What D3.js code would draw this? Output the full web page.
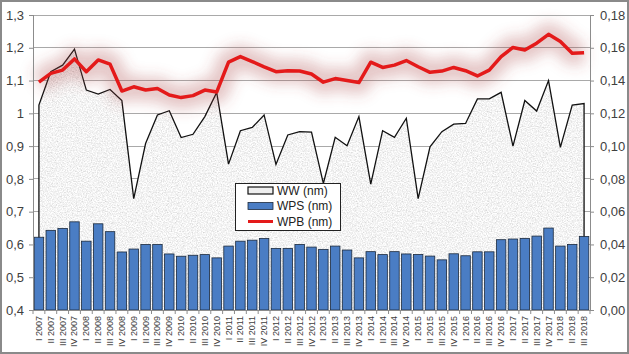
<!DOCTYPE html>
<html><head><meta charset="utf-8">
<script src="https://cdn.jsdelivr.net/npm/d3@7"></script>
<style>
html,body{margin:0;padding:0;background:#fff;}
svg{display:block;font-family:"Liberation Sans",Arial,sans-serif;}
</style></head>
<body>
<svg id="chart" width="629" height="354"></svg>
<script>
const categories = ["I 2007","II 2007","III 2007","IV 2007","I 2008","II 2008","III 2008","IV 2008",
"I 2009","II 2009","III 2009","IV 2009","I 2010","II 2010","III 2010","IV 2010",
"I 2011","II 2011","III 2011","IV 2011","I 2012","II 2012","III 2012","IV 2012",
"I 2013","II 2013","III 2013","IV 2013","I 2014","II 2014","III 2014","IV 2014",
"I 2015","II 2015","III 2015","IV 2015","I 2016","II 2016","III 2016","IV 2016",
"I 2017","II 2017","III 2017","IV 2017","I 2018","II 2018","III 2018"];

// WW (nm) - left axis
const ww = [1.025,1.127,1.147,1.196,1.071,1.059,1.073,1.039,0.740,0.908,0.995,1.008,
0.926,0.936,0.990,1.064,0.845,0.947,0.957,0.995,0.844,0.934,0.944,0.943,
0.786,0.927,0.901,0.990,0.784,0.947,0.927,0.985,0.740,0.898,0.944,0.967,
0.969,1.044,1.044,1.064,0.900,1.039,1.007,1.100,0.896,1.025,1.030];

// WPS (nm) - right axis
const wps = [0.0444,0.0486,0.0498,0.0538,0.0420,0.0526,0.0478,0.0354,0.0372,0.0400,0.0400,0.0342,
0.0328,0.0334,0.0338,0.0318,0.0390,0.0420,0.0426,0.0436,0.0376,0.0376,0.0400,0.0384,
0.0370,0.0390,0.0366,0.0318,0.0356,0.0338,0.0356,0.0342,0.0339,0.0329,0.0306,0.0343,
0.0331,0.0355,0.0355,0.0429,0.0433,0.0437,0.0451,0.0500,0.0390,0.0400,0.0449];

// WPB (nm) - right axis
const wpb = [0.1390,0.1444,0.1464,0.1532,0.1454,0.1526,0.1500,0.1336,0.1362,0.1342,0.1352,0.1312,
0.1296,0.1308,0.1342,0.1330,0.1512,0.1546,0.1516,0.1484,0.1454,0.1460,0.1458,0.1440,
0.1390,0.1412,0.1400,0.1388,0.1512,0.1480,0.1494,0.1522,0.1484,0.1450,0.1458,0.1480,
0.1460,0.1428,0.1464,0.1546,0.1602,0.1586,0.1628,0.1682,0.1638,0.1566,0.1570];

const leftTicks = [0.4,0.5,0.6,0.7,0.8,0.9,1.0,1.1,1.2,1.3];
const leftTickLabels = ["0,4","0,5","0,6","0,7","0,8","0,9","1","1,1","1,2","1,3"];
const rightTicks = [0,0.02,0.04,0.06,0.08,0.10,0.12,0.14,0.16,0.18];
const rightTickLabels = ["0,00","0,02","0,04","0,06","0,08","0,10","0,12","0,14","0,16","0,18"];
const seriesNames = ["WW (nm)","WPS (nm)","WPB (nm)"];

const svg = d3.select("#chart");
const X0 = 33, X1 = 590, YT = 15, YB = 310;

const x = d3.scaleBand().domain(categories).range([X0, X1]).paddingInner(0.2).paddingOuter(0.1);
const cx = c => x(c) + x.bandwidth()/2;
const yL = d3.scaleLinear().domain([0.4, 1.3]).range([YB, YT]);
const yR = d3.scaleLinear().domain([0, 0.18]).range([YB, YT]);

const defs = svg.append("defs");
const tex = defs.append("filter").attr("id","tex").attr("x",0).attr("y",0).attr("width",1).attr("height",1);
tex.append("feTurbulence").attr("type","fractalNoise").attr("baseFrequency",0.8).attr("numOctaves",3).attr("seed",7).attr("result","noise");
tex.append("feColorMatrix").attr("in","noise").attr("type","matrix")
  .attr("values","0.6 0 0 0 0.6  0.6 0 0 0 0.6  0.6 0 0 0 0.6  0 0 0 0 1").attr("result","gray");
tex.append("feComposite").attr("in","gray").attr("in2","SourceGraphic").attr("operator","in");

const glow = defs.append("filter").attr("id","glow").attr("x","-10%").attr("y","-80%").attr("width","120%").attr("height","260%");
glow.append("feGaussianBlur").attr("stdDeviation",7);

// gridlines
svg.append("g").selectAll("line").data(leftTicks.slice(1)).join("line")
  .attr("x1", X0).attr("x2", X1).attr("y1", d => yL(d)).attr("y2", d => yL(d))
  .attr("stroke", "#a9a9a9").attr("stroke-width", 1).attr("shape-rendering","crispEdges");

// WW area
const pts = ww.map((v,i) => ({c: categories[i], v}));
const area = d3.area().x(d => cx(d.c)).y0(yL(0.4)).y1(d => yL(d.v));
svg.append("path").datum(pts).attr("d", area).attr("fill", "#ddd").attr("filter","url(#tex)");
const outline = [{c: categories[0], v: 0.4}, ...pts, {c: categories[categories.length-1], v: 0.4}];
svg.append("path").datum(outline)
  .attr("d", d3.line().x(d => cx(d.c)).y(d => yL(d.v)))
  .attr("fill","none").attr("stroke","#111").attr("stroke-width",1.3).attr("stroke-linejoin","miter");

// WPS bars
svg.append("g").selectAll("rect").data(wps).join("rect")
  .attr("x", (d,i) => x(categories[i])).attr("width", x.bandwidth())
  .attr("y", d => yR(d)).attr("height", d => yR(0) - yR(d))
  .attr("fill", "#4a7dc4").attr("stroke", "#1c2a3c").attr("stroke-width", 0.8);

// WPB glow + line
const wpbLine = d3.line().x((d,i) => cx(categories[i])).y(d => yR(d));
svg.append("path").datum(wpb).attr("d", wpbLine).attr("fill","none")
  .attr("stroke","#a84848").attr("stroke-opacity",0.3).attr("stroke-width",24)
  .attr("stroke-linejoin","round").attr("filter","url(#glow)");
svg.append("path").datum(wpb).attr("d", wpbLine).attr("fill","none")
  .attr("stroke","#e41a1a").attr("stroke-width",3.5).attr("stroke-linejoin","round");

// axes lines
svg.append("line").attr("x1",X0).attr("x2",X1).attr("y1",YT).attr("y2",YT).attr("stroke","#a9a9a9").attr("shape-rendering","crispEdges");
svg.append("line").attr("x1",X0).attr("x2",X0).attr("y1",YT).attr("y2",YB).attr("stroke","#8c8c8c").attr("shape-rendering","crispEdges");
svg.append("line").attr("x1",X1).attr("x2",X1).attr("y1",YT).attr("y2",YB).attr("stroke","#8c8c8c").attr("shape-rendering","crispEdges");
svg.append("line").attr("x1",X0).attr("x2",X1).attr("y1",YB).attr("y2",YB).attr("stroke","#8c8c8c").attr("shape-rendering","crispEdges");

// left axis
const gl = svg.append("g").attr("transform",`translate(${X0},0)`)
  .call(d3.axisLeft(yL).tickValues(leftTicks).tickSize(4).tickFormat((d,i) => leftTickLabels[i]));
gl.select(".domain").remove();
gl.selectAll("line").attr("stroke","#8c8c8c");
gl.selectAll("text").attr("font-size",13).attr("fill","#404040").attr("x",-9)
  .attr("font-family","Liberation Sans, Arial, sans-serif");

// right axis
const gr = svg.append("g").attr("transform",`translate(${X1},0)`)
  .call(d3.axisRight(yR).tickValues(rightTicks).tickSize(4).tickFormat((d,i) => rightTickLabels[i]));
gr.select(".domain").remove();
gr.selectAll("line").attr("stroke","#8c8c8c");
gr.selectAll("text").attr("font-size",13).attr("fill","#404040").attr("x",10)
  .attr("font-family","Liberation Sans, Arial, sans-serif");

// x axis ticks at band boundaries
const step = x.step();
svg.append("g").selectAll("line").data(categories.concat(["_end"])).join("line")
  .attr("x1",(d,i) => X0 + i*step).attr("x2",(d,i) => X0 + i*step)
  .attr("y1",YB).attr("y2",YB+4).attr("stroke","#8c8c8c");
svg.append("g").selectAll("text").data(categories).join("text")
  .attr("transform", d => `translate(${cx(d)+3},${YB+6}) rotate(-90)`)
  .attr("text-anchor","end").attr("font-size",9).attr("fill","#404040")
  .text(d => d);

// legend
const lg = svg.append("g");
lg.append("rect").attr("x",235.5).attr("y",183.5).attr("width",105).attr("height",47)
  .attr("fill","#fff").attr("stroke","#222").attr("stroke-width",1);
const rows = [190.5, 206, 221.5];
lg.append("rect").attr("x",248).attr("y",rows[0]-3.5).attr("width",25).attr("height",7)
  .attr("fill","#eee").attr("stroke","#111").attr("stroke-width",1.2);
lg.append("rect").attr("x",248).attr("y",rows[1]-3.5).attr("width",25).attr("height",7)
  .attr("fill","#4a7dc4").attr("stroke","#1c2a3c").attr("stroke-width",0.8);
lg.append("line").attr("x1",248).attr("x2",273).attr("y1",rows[2]).attr("y2",rows[2])
  .attr("stroke","#e41a1a").attr("stroke-width",3);
lg.selectAll("text").data(seriesNames).join("text")
  .attr("x",277).attr("y",(d,i) => rows[i]).attr("dy","0.36em")
  .attr("font-size",12).attr("fill","#222").text(d => d);

// outer frame
svg.append("rect").attr("x",1).attr("y",1).attr("width",627).attr("height",352)
  .attr("fill","none").attr("stroke","#8a8a8a").attr("stroke-width",2);
</script>
</body></html>
